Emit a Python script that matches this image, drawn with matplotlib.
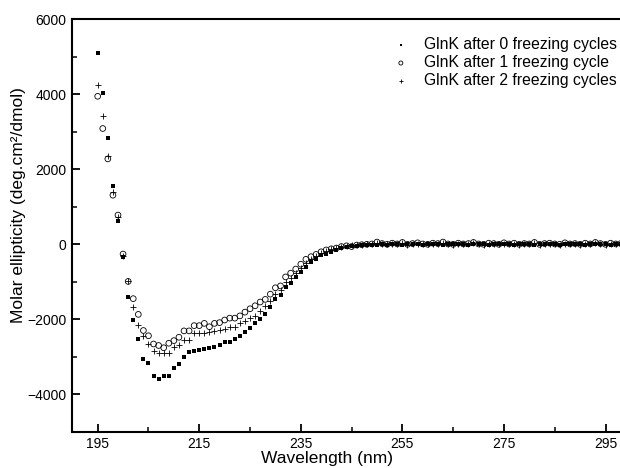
import numpy as np
import matplotlib
matplotlib.use("Agg")
import matplotlib.pyplot as plt
from matplotlib.ticker import MultipleLocator, FixedLocator

plt.rcParams['font.family'] = ['Liberation Sans', 'DejaVu Sans']

# CD spectra, 1 nm steps starting at 195 nm
cycles0 = [5100, 4050, 2830, 1550, 630, -350, -1400, -2010, -2520, -3070,
           -3170, -3510, -3590, -3520, -3510, -3310, -3190, -3000, -2870, -2850,
           -2830, -2800, -2770, -2740, -2700, -2610, -2600, -2530, -2440, -2350,
           -2240, -2110, -1980, -1860, -1670, -1460, -1340, -1140, -1020, -870,
           -730, -600, -470, -380, -290, -260, -200, -150, -110, -70,
           -50, -40, -30, -20, -20, -10, 0, -10, 10, 0,
           -10, 0, 10, 0, -10, 10, 0, 0, -10, 10,
           0, 0, 10, -10, 0, 10, 0, -10, 0, 0,
           10, 0, -10, 10, 0, 0, -10, 0, 10, 0,
           0, -10, 10, 0, 0, 10, -10, 0, 0, 10,
           0, -10, 0, 10, 0, 0]
cycles1 = [3950, 3090, 2280, 1310, 780, -260, -990, -1450, -1870, -2300,
           -2440, -2660, -2700, -2760, -2640, -2570, -2480, -2310, -2310, -2170,
           -2170, -2110, -2200, -2110, -2090, -2020, -1970, -1970, -1910, -1810,
           -1720, -1640, -1540, -1470, -1330, -1160, -1110, -870, -770, -660,
           -530, -400, -330, -270, -200, -150, -120, -100, -60, -40,
           -60, -20, -10, 0, 10, 60, 20, 0, 30, 10,
           50, 0, 20, 40, 10, 0, 30, 20, 60, 10,
           0, 30, 10, 20, 50, 10, 0, 30, 20, 0,
           40, 10, 30, 0, 20, 10, 50, 0, 20, 30,
           10, 0, 40, 10, 20, 0, 30, 10, 50, 20,
           0, 30, 10, 20, 0, 10]
cycles2 = [4250, 3420, 2350, 1400, 720, -300, -990, -1680, -2150, -2440,
           -2670, -2850, -2910, -2910, -2910, -2730, -2700, -2550, -2550, -2370,
           -2360, -2360, -2350, -2300, -2290, -2270, -2200, -2200, -2090, -2040,
           -1970, -1910, -1770, -1650, -1500, -1330, -1220, -1010, -900, -760,
           -630, -490, -390, -310, -240, -180, -130, -100, -60, -40,
           -30, -20, -10, 0, 10, 30, 0, 10, 20, 0,
           30, -10, 10, 20, 0, 10, 20, 0, 30, 10,
           -10, 20, 0, 10, 30, 0, -10, 20, 10, 0,
           20, 0, 10, -10, 10, 0, 30, -10, 10, 20,
           0, -10, 20, 0, 10, -10, 20, 0, 30, 10,
           -10, 20, 0, 10, -10, 0]
labels = ["GlnK after 0 freezing cycles",
          "GlnK after 1 freezing cycle",
          "GlnK after 2 freezing cycles"]

fig = plt.figure(figsize=(6.2, 4.68), dpi=100)
ax = fig.add_axes([0.1166, 0.0776, 0.901, 0.8808])

x0 = 195 + np.arange(len(cycles0))
x1 = 195 + np.arange(len(cycles1))
x2 = 195 + np.arange(len(cycles2))

ax.scatter(x0, cycles0, marker='s', s=8, color='black', linewidths=0, label=labels[0], zorder=3)
ax.scatter(x1, cycles1, marker='o', s=17, facecolors='none', edgecolors='black', linewidths=0.6, label=labels[1], zorder=2)
ax.scatter(x2, cycles2, marker='+', s=16, color='black', linewidths=0.6, label=labels[2], zorder=2)

ax.set_xlim(190, 300)
ax.set_ylim(-5000, 6000)
ax.set_xticks([195, 215, 235, 255, 275, 295])
ax.xaxis.set_minor_locator(FixedLocator([205, 225, 245, 265, 285]))
ax.set_yticks([-4000, -2000, 0, 2000, 4000, 6000])
ax.yaxis.set_minor_locator(MultipleLocator(1000))

ax.tick_params(which='major', direction='in', length=6, width=1.3, labelsize=10, pad=4)
ax.tick_params(which='minor', direction='in', length=3.5, width=1.1)
for sp in ax.spines.values():
    sp.set_linewidth(1.5)

ax.set_xlabel("Wavelength (nm)", fontsize=12.5)
ax.set_ylabel("Molar ellipticity (deg.cm²/dmol)", fontsize=12.5)
ax.xaxis.set_label_coords(0.456, -0.048)
ax.yaxis.set_label_coords(-0.083, 0.55)

ax.legend(loc='upper left', bbox_to_anchor=(393 / 620, 1 - 37 / 468), bbox_transform=fig.transFigure,
          frameon=False, fontsize=11.3, scatterpoints=1, markerscale=0.7, handlelength=1.0,
          handletextpad=0.95, borderpad=0, borderaxespad=0, labelspacing=0.2)

fig.savefig("out.png", dpi=100)
